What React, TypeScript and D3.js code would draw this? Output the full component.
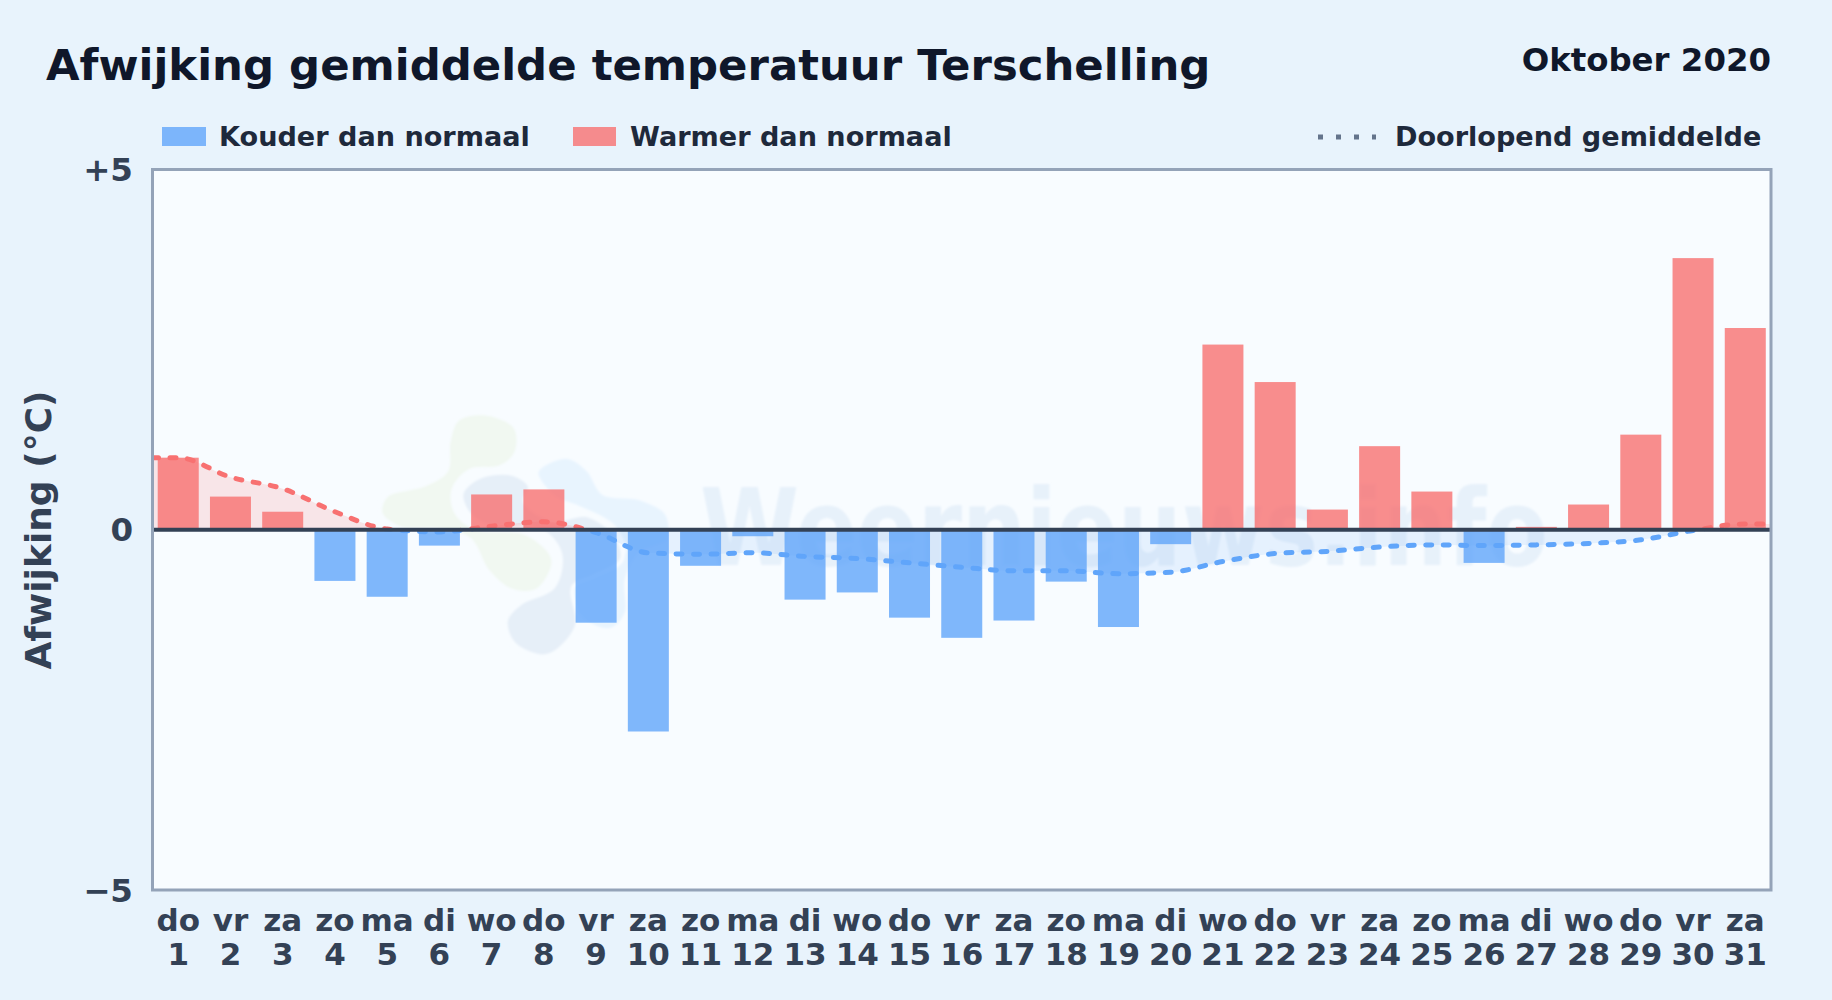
import React from "react";
import * as d3 from "d3";

const WEEKDAYS = ["do","vr","za","zo","ma","di","wo","do","vr","za","zo","ma","di","wo","do","vr","za","zo","ma","di","wo","do","vr","za","zo","ma","di","wo","do","vr","za"];
const DAYS = ["1","2","3","4","5","6","7","8","9","10","11","12","13","14","15","16","17","18","19","20","21","22","23","24","25","26","27","28","29","30","31"];
const DEVIATION = [1.0,0.46,0.25,-0.71,-0.93,-0.22,0.49,0.56,-1.29,-2.8,-0.5,-0.09,-0.97,-0.87,-1.22,-1.5,-1.26,-0.72,-1.35,-0.2,2.57,2.05,0.28,1.16,0.53,-0.46,0.04,0.35,1.32,3.77,2.8];
const RUNNING = [1.0,0.73,0.57,0.25,0.01,-0.03,0.05,0.11,-0.04,-0.32,-0.34,-0.32,-0.37,-0.4,-0.46,-0.52,-0.57,-0.57,-0.61,-0.59,-0.44,-0.33,-0.3,-0.24,-0.21,-0.22,-0.21,-0.19,-0.14,-0.01,0.08];
const Y_TICKS = [{ v: 5, t: "+5" }, { v: 0, t: "0" }, { v: -5, t: "\u22125" }];

const BOX = { l: 152.5, r: 1771, t: 169.5, b: 890 };
const FONT = "'DejaVu Sans', sans-serif";
const BLUE = "#60a5fa";
const RED = "#f87171";

// decorative watermark logo outlines (zoom-crop coordinates)
const LOGO_GREEN: [number, number][] = [[430,100],[525,140],[530,215],[480,262],[390,272],[340,330],[350,400],[410,445],[560,460],[640,540],[590,632],[510,630],[440,570],[390,480],[300,450],[180,445],[122,400],[140,345],[250,315],[320,270],[325,190],[350,120]];
const LOGO_GREY: [number, number][] = [[365,340],[420,290],[520,282],[570,320],[555,365],[640,420],[740,405],[830,470],[845,540],[760,590],[700,620],[710,740],[620,828],[520,790],[498,720],[540,670],[640,620],[660,520],[600,450],[450,440],[385,400]];
const LOGO_BLUE: [number, number][] = [[590,275],[680,230],[745,270],[790,340],[900,355],[980,400],[985,480],[900,520],[860,600],[860,700],[810,750],[730,720],[690,640],[740,570],[850,520],[820,440],[720,385],[640,350]];

export default function App() {
  document.body.style.margin = "0";
  const x = d3.scaleBand<string>().domain(DAYS).range([BOX.l, BOX.r]).paddingInner(0.215).paddingOuter(0.1);
  const y = d3.scaleLinear().domain([-5, 5]).range([BOX.b, BOX.t]);
  const cx = (i: number) => (x(DAYS[i]) as number) + x.bandwidth() / 2;
  const y0 = y(0);

  const pts: [number, number][] = [
    [BOX.l, RUNNING[0]],
    ...RUNNING.map((v, i) => [cx(i), v] as [number, number]),
    [BOX.r, RUNNING[RUNNING.length - 1]],
  ];
  const line = d3.line<[number, number]>().x(d => d[0]).y(d => y(d[1])).curve(d3.curveMonotoneX);
  const area = d3.area<[number, number]>().x(d => d[0]).y0(y0).y1(d => y(d[1])).curve(d3.curveMonotoneX);
  const blob = d3.line<[number, number]>().x(d => 340 + d[0] / 3).y(d => 380 + d[1] / 3).curve(d3.curveCatmullRomClosed.alpha(0.5));

  const dash = "6 11.5";
  return (
    <svg width={1832} height={1000} viewBox="0 0 1832 1000" style={{ position: "absolute", left: 0, top: 0, display: "block" }} fontFamily={FONT} fontWeight={700}>
      <defs>
        <clipPath id="above"><rect x={BOX.l} y={BOX.t} width={BOX.r - BOX.l} height={y0 - BOX.t} /></clipPath>
        <clipPath id="below"><rect x={BOX.l} y={y0} width={BOX.r - BOX.l} height={BOX.b - y0} /></clipPath>
        <filter id="soft"><feGaussianBlur stdDeviation={1} /></filter>
      </defs>
      <rect width={1832} height={1000} fill="#e8f3fc" />
      <rect x={BOX.l} y={BOX.t} width={BOX.r - BOX.l} height={BOX.b - BOX.t} fill="#f8fcff" />

      <g filter="url(#soft)">
        <path d={blob(LOGO_GREEN) as string} fill="#f1f8f1" stroke="#f8fcff" strokeWidth={4} />
        <path d={blob(LOGO_BLUE) as string} fill="#e8f4fe" stroke="#f8fcff" strokeWidth={4} />
        <path d={blob(LOGO_GREY) as string} fill="#e6eff8" stroke="#f8fcff" strokeWidth={4} />
        <text x={700} y={565} fontSize={107} fill="#e7f1fa" textLength={848} lengthAdjust="spacingAndGlyphs">Weernieuws.info</text>
      </g>

      {DEVIATION.map((v, i) => (
        <rect key={i} x={x(DAYS[i])} width={x.bandwidth()} y={Math.min(y(v), y0)} height={Math.abs(y(v) - y0)} fill={v < 0 ? BLUE : RED} fillOpacity={0.8} />
      ))}

      <path d={area(pts) as string} fill={RED} fillOpacity={0.16} clipPath="url(#above)" />
      <path d={area(pts) as string} fill={BLUE} fillOpacity={0.12} clipPath="url(#below)" />
      <path d={line(pts) as string} fill="none" stroke={RED} strokeWidth={5} strokeDasharray={dash} strokeLinecap="round" clipPath="url(#above)" />
      <path d={line(pts) as string} fill="none" stroke={BLUE} strokeWidth={5} strokeDasharray={dash} strokeLinecap="round" clipPath="url(#below)" />

      <line x1={BOX.l} x2={BOX.r} y1={y0} y2={y0} stroke="#334155" strokeWidth={4} />
      <rect x={BOX.l} y={BOX.t} width={BOX.r - BOX.l} height={BOX.b - BOX.t} fill="none" stroke="#94a3b8" strokeWidth={3} />

      <text x={46} y={80} fontSize={43.4} fill="#0f172a">Afwijking gemiddelde temperatuur Terschelling</text>
      <text x={1771} y={71} fontSize={32.4} fill="#0f172a" textAnchor="end">Oktober 2020</text>

      <rect x={162} y={127} width={44} height={19} fill={BLUE} fillOpacity={0.8} />
      <text x={219} y={146} fontSize={27.1} fill="#1e293b">Kouder dan normaal</text>
      <rect x={573} y={127} width={43} height={19} fill={RED} fillOpacity={0.8} />
      <text x={630} y={146} fontSize={27.1} fill="#1e293b">Warmer dan normaal</text>
      <line x1={1318} x2={1376} y1={137} y2={137} stroke="#64748b" strokeWidth={5} strokeDasharray="5 13" />
      <text x={1395} y={146} fontSize={27.1} fill="#1e293b">Doorlopend gemiddelde</text>

      {Y_TICKS.map(t => (
        <text key={t.v} x={133} y={y(t.v) + 11.5} fontSize={32.5} fill="#334155" textAnchor="end">{t.t}</text>
      ))}
      {DAYS.map((d, i) => (
        <g key={d} fontSize={31} fill="#334155" textAnchor="middle">
          <text x={cx(i)} y={931}>{WEEKDAYS[i]}</text>
          <text x={cx(i)} y={965}>{d}</text>
        </g>
      ))}
      <text transform={`translate(51,530) rotate(-90)`} fontSize={36} fill="#334155" textAnchor="middle">Afwijking (°C)</text>
    </svg>
  );
}
